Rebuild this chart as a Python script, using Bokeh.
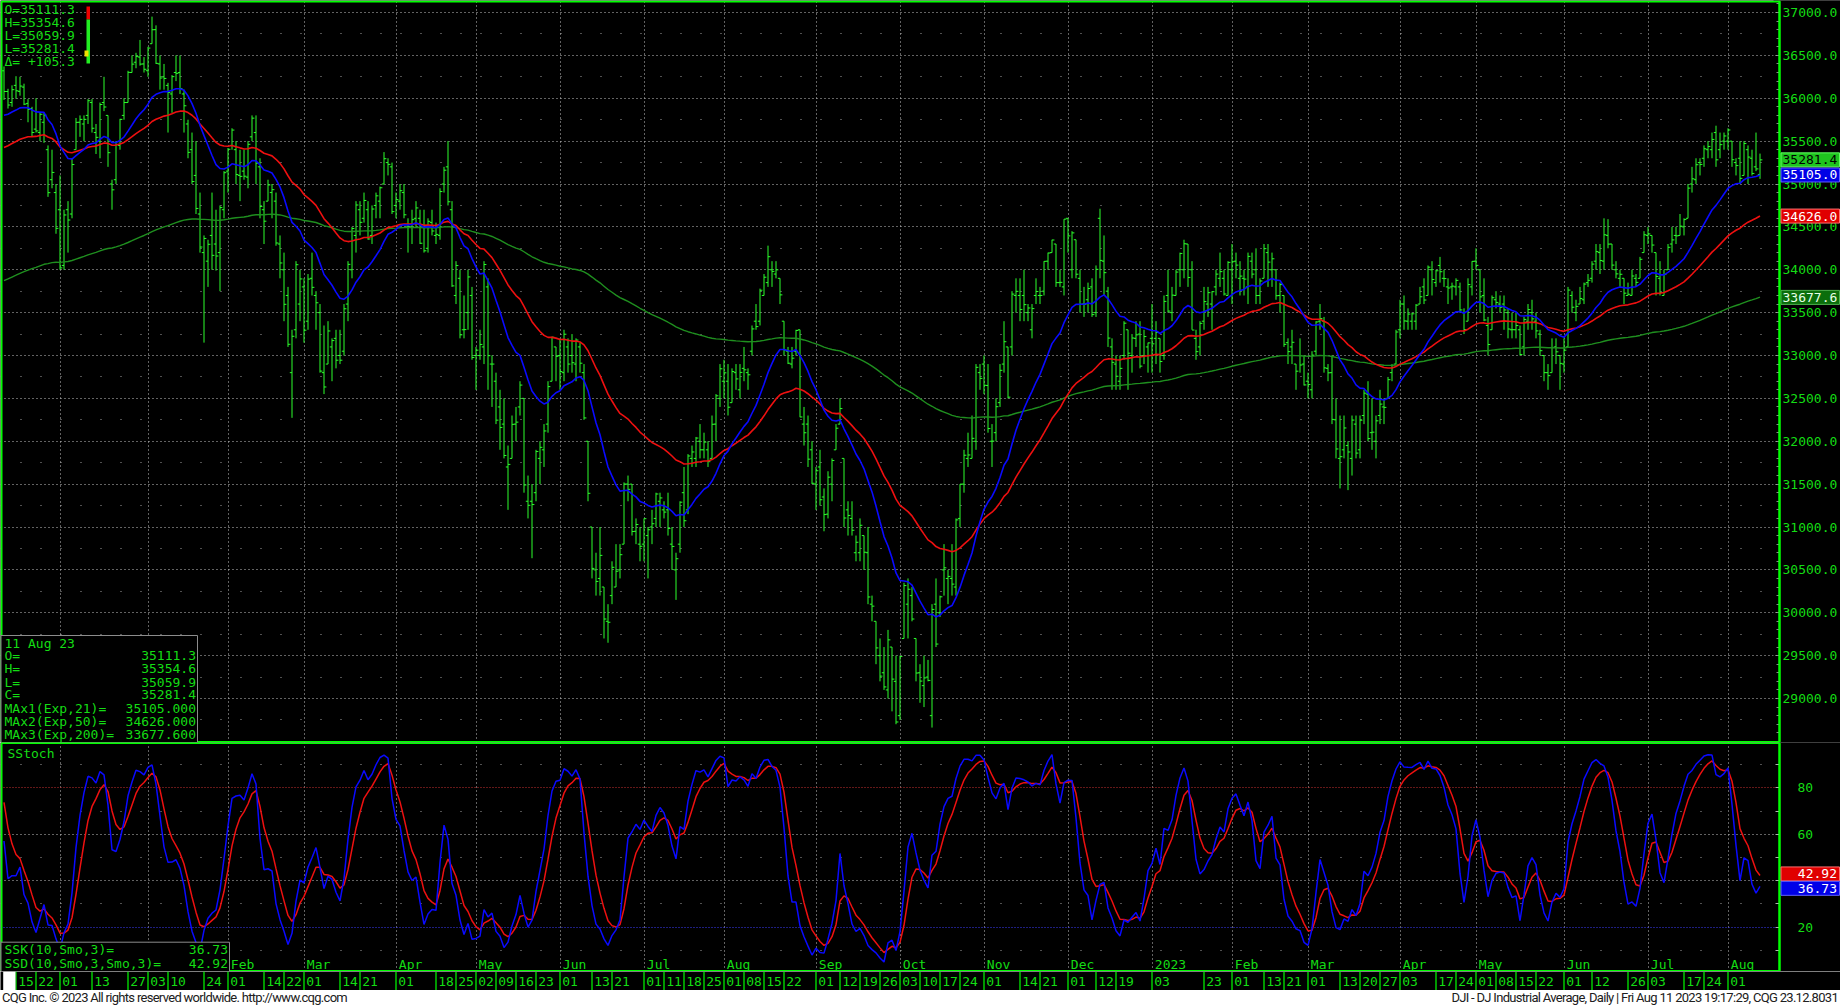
import numpy as np
import pandas as pd
from bokeh.plotting import figure
from bokeh.layouts import column
from bokeh.models import (Range1d, FixedTicker, NumeralTickFormatter, CustomJSTickFormatter, Grid,
                          LinearAxis, Label, BoxAnnotation, Div)
from bokeh.embed import file_html
from bokeh.resources import INLINE
from bokeh.core.properties import value

# ------------------------------------------------------------------ data
holidays = ["2021-11-25", "2021-12-24", "2022-01-17", "2022-02-21", "2022-04-15", "2022-05-30",
            "2022-06-20", "2022-07-04", "2022-09-05", "2022-11-24", "2022-12-26", "2023-01-02",
            "2023-01-16", "2023-02-20", "2023-04-07", "2023-05-29", "2023-06-19", "2023-07-04"]
first_day, last_day = "2021-11-10", "2023-08-11"

# one line per month: Nov-2021 ... Aug-2023
opens = [
    36320, 36079, 35950, 36150, 36080, 36130, 35940, 35880, 35640, 35600, 35720, 35400, 35050, 34900,
    34700, 34050, 34700, 34650, 35400, 35720, 35700, 35800, 35950, 35600, 35500, 35950, 35800, 35000, 35050, 35450, 35800, 35950, 36300, 36420, 36480, 36400,
    36321, 36636, 36800, 36400, 36250, 36150, 36050, 36300, 36300, 36050, 35700, 35400, 35100, 34650, 34200, 34100, 34400, 34300, 34200, 34700,
    35150, 35450, 35400, 35100, 35150, 35080, 35550, 35600, 35200, 34700, 34800, 34900, 34800, 34300, 34000, 33700, 32800, 33300, 33600,
    33800, 33400, 33900, 33700, 33500, 32800, 32900, 33100, 33200, 33000, 33050, 33600, 34000, 34400, 34700, 34600, 34700, 34400, 34750, 34800, 35000, 35250, 35200,
    34750, 34800, 34900, 34500, 34500, 34600, 34600, 34500, 34250, 34550, 34400, 34400, 35000, 35200, 34700, 33700, 33900, 33300, 33500, 33700,
    33000, 33000, 33100, 33800, 32900, 32700, 32400, 32200, 31700, 31800, 32200, 32400, 32500, 31300, 31300, 31400, 31800, 31900, 32200, 32700, 33100,
    33000, 32800, 33100, 33000, 32900, 33100, 32800, 32000, 31000, 30500, 30400, 30300, 29900, 30200, 30300, 30500, 30800, 31500, 31500, 30950, 30800,
    30800, 30900, 31000, 31100, 31300, 31200, 31200, 30800, 30500, 30800, 31400, 31200, 31800, 31800, 32000, 31900, 31900, 31800, 32200, 32500,
    32700, 32700, 32450, 32800, 32600, 32850, 32800, 33050, 33400, 33400, 33700, 33850, 34000, 33950, 33900, 33400, 33050, 32900, 33050, 33300, 32200, 32200, 31900,
    31500, 31700, 31350, 31150, 31500, 31900, 32200, 31800, 31200, 31100, 30700, 30700, 30900, 30700, 30100, 29900, 29500, 29300, 29100, 29600, 29200,
    28800, 29700, 30100, 30200, 29700, 29300, 29150, 29250, 28800, 30100, 30000, 30500, 30400, 30400, 30300, 31100, 31500, 31800, 31800, 32000, 32800,
    32900, 32650, 32000, 32100, 32450, 32900, 33100, 33100, 33700, 33700, 33700, 33500, 33300, 33700, 33700, 33750, 34100, 34200, 34300, 33850, 33800,
    34600, 34000, 34350, 33900, 33600, 33650, 33800, 33500, 34600, 34100, 33750, 33100, 32900, 32700, 33000, 33300, 33000, 33200, 33250, 33000, 33100,
    33200, 33200, 33200, 33000, 33700, 33500, 33700, 34000, 34000, 34300, 34000, 33200, 33100, 33400, 33600, 33600, 33800, 33900, 33900, 33700,
    34000, 34100, 33900, 33900, 33800, 34100, 34000, 33700, 33900, 34200, 34000, 34000, 33700, 33700, 33150, 33100, 32900, 33000, 32900,
    32700, 32600, 33050, 33400, 33400, 32850, 32800, 32250, 31800, 31900, 31950, 31800, 32200, 31900, 32300, 32550, 32100, 32000, 32300, 32400, 32500, 32800, 32900,
    33300, 33600, 33400, 33400, 33400, 33600, 33800, 33700, 34000, 33850, 34050, 33900, 33800, 33800, 33800, 33800, 33500, 33400, 33800,
    34100, 34000, 33700, 33350, 33300, 33650, 33600, 33600, 33500, 33300, 33300, 33300, 33100, 33400, 33500, 33400, 33250, 33000, 32800, 32800, 33100, 33000,
    32900, 33100, 33700, 33500, 33600, 33650, 33850, 33900, 34100, 34200, 34100, 34400, 34300, 34000, 33900, 33900, 33700, 33700, 33900, 33900, 34200,
    34400, 34400, 34200, 33900, 33700, 34000, 34300, 34400, 34400, 34500, 34600, 35000, 35050, 35250, 35300, 35400, 35400, 35600, 35400, 35500,
    35500, 35500, 35250, 35300, 35100, 35400, 35300, 35200, 35111.3,
]
highs = [
    36371, 36110, 36150, 36257, 36250, 36170, 35990, 35900, 36000, 35840, 35830, 35450, 35400, 35000,
    35100, 34700, 34800, 35300, 35770, 35800, 35800, 35990, 35990, 35700, 35950, 36250, 35800, 35050, 35500, 35760, 36000, 36320, 36500, 36530, 36680, 36480,
    36600, 36952, 36850, 36500, 36400, 36180, 36270, 36500, 36500, 36100, 35750, 35600, 35500, 34900, 34400, 34350, 34900, 34700, 34750, 35150,
    35420, 35650, 35500, 35400, 35400, 35500, 35800, 35800, 35300, 34800, 35050, 35000, 34900, 34400, 34200, 33800, 33300, 34100, 34000,
    33900, 33950, 34200, 33750, 33600, 33350, 33400, 33200, 33300, 33300, 33600, 34100, 34500, 34800, 34800, 34900, 34800, 34750, 34900, 34970, 35372, 35300, 35250,
    34900, 35000, 35000, 34600, 34700, 34800, 34700, 34700, 34600, 34700, 34550, 34950, 35200, 35500, 34800, 34100, 34000, 33700, 34000, 33800,
    33100, 33300, 34100, 33900, 33000, 32800, 32600, 32500, 31950, 32300, 32400, 32700, 32500, 31600, 31500, 31900, 32000, 32200, 32700, 33220, 33100,
    33200, 33300, 33200, 33250, 33200, 33150, 32900, 32000, 31000, 30700, 31000, 30300, 30100, 30600, 30800, 30800, 31520, 31600, 31500, 31100, 31000,
    31100, 31000, 31200, 31400, 31400, 31300, 31400, 31000, 30700, 31300, 31700, 31850, 31950, 32050, 32200, 32100, 32000, 32300, 32550, 32900,
    32950, 32900, 32850, 32900, 32900, 33100, 32850, 33350, 33600, 33780, 33950, 34281, 34100, 34100, 33900, 33400, 33100, 33100, 33300, 33300, 32400, 32300, 32000,
    31700, 31900, 31450, 31650, 31800, 32200, 32500, 31800, 31300, 31300, 30900, 31100, 30900, 31000, 30200, 29900, 29700, 29600, 29800, 29600, 29500,
    29500, 30350, 30400, 30300, 29700, 29400, 29500, 29450, 30100, 30400, 30200, 30800, 30500, 30800, 31100, 31500, 31900, 32100, 32300, 32900, 32900,
    33000, 32900, 32200, 32500, 32900, 33400, 33100, 33750, 33900, 33900, 34000, 33600, 33600, 33900, 33800, 34100, 34200, 34350, 34300, 34000, 34590,
    34600, 34450, 34350, 34000, 33800, 33850, 33900, 34050, 34712, 34400, 33800, 33200, 33000, 33000, 33400, 33300, 33250, 33400, 33400, 33300, 33150,
    33600, 33400, 33200, 33700, 34000, 33800, 34000, 34200, 34350, 34300, 34100, 33300, 33400, 33800, 33800, 33750, 34000, 34200, 34000, 34100,
    34300, 34200, 34100, 34000, 34200, 34200, 34250, 33900, 34300, 34300, 34200, 34000, 33850, 33700, 33200, 33300, 32900, 33200, 33000,
    32800, 33050, 33400, 33600, 33450, 32900, 33000, 32500, 32300, 32300, 32000, 32300, 32300, 32300, 32600, 32700, 32500, 32300, 32600, 32500, 32750, 32900, 33300,
    33650, 33700, 33550, 33500, 33600, 33800, 33900, 34050, 34100, 34000, 34150, 34000, 33900, 33850, 33900, 33850, 33550, 33900, 34100,
    34250, 34000, 33900, 33450, 33700, 33750, 33700, 33700, 33550, 33500, 33500, 33350, 33450, 33600, 33650, 33500, 33300, 33000, 32900, 33200, 33200, 33000,
    33200, 33800, 33750, 33650, 33800, 33850, 33950, 34100, 34300, 34300, 34600, 34590, 34300, 34100, 34000, 33900, 33850, 34000, 33950, 34150, 34450,
    34500, 34400, 34200, 34100, 34000, 34300, 34500, 34500, 34650, 34600, 35000, 35200, 35300, 35300, 35450, 35500, 35600, 35680, 35600, 35600,
    35650, 35500, 35300, 35500, 35500, 35450, 35400, 35600, 35354.6,
]
lows = [
    35980, 35880, 35900, 35994, 36030, 35920, 35720, 35550, 35600, 35500, 35480, 34850, 34950, 34420,
    34000, 34000, 34200, 34600, 35400, 35550, 35500, 35700, 35600, 35350, 35300, 35850, 35200, 34700, 35000, 35400, 35750, 35950, 36300, 36350, 36380, 36300,
    36250, 36636, 36400, 36100, 36100, 35600, 35830, 36200, 36050, 35600, 35300, 35000, 34650, 34200, 33150, 33800, 34000, 33990, 33750, 34600,
    34900, 35400, 35000, 34800, 35050, 34950, 35500, 35000, 34600, 34300, 34800, 34600, 34280, 33900, 33400, 33100, 32273, 33200, 33400,
    33150, 33300, 33700, 33300, 32800, 32550, 32900, 32700, 32850, 32900, 33000, 33400, 33900, 34200, 34400, 34550, 34350, 34300, 34600, 34600, 35000, 35100, 34650,
    34600, 34700, 34600, 34200, 34300, 34500, 34300, 34200, 34200, 34400, 34300, 34350, 34900, 34750, 33800, 33600, 33200, 33200, 33300, 32950,
    32600, 32950, 32900, 32600, 32400, 32200, 31900, 31800, 31200, 31800, 32000, 32300, 31400, 31100, 30636, 31300, 31500, 31700, 32100, 32700, 32700,
    32600, 32700, 32800, 32800, 32700, 32800, 32250, 31300, 30400, 30200, 30200, 29700, 29650, 30100, 30300, 30400, 30800, 31300, 30900, 30800, 30600,
    30600, 30400, 30800, 31000, 31000, 31100, 30900, 30500, 30150, 30700, 31000, 31150, 31700, 31700, 31800, 31800, 31700, 31800, 32000, 32400,
    32500, 32300, 32450, 32600, 32500, 32700, 32600, 33000, 33300, 33350, 33700, 33800, 33800, 33900, 33600, 33000, 32900, 32850, 33000, 32280, 31950, 31700, 31500,
    31200, 31250, 30950, 31100, 31300, 31900, 32200, 31000, 30900, 30900, 30600, 30600, 30500, 30100, 29900, 29400, 29200, 29100, 29000, 28850, 28700,
    28750, 29700, 29700, 29900, 29200, 28950, 28900, 29200, 28661, 29600, 29950, 30200, 30100, 30200, 30200, 31000, 31400, 31700, 31800, 31900, 32600,
    32550, 32100, 31700, 32000, 32400, 32800, 32500, 33000, 33500, 33400, 33400, 33400, 33200, 33600, 33600, 33700, 34000, 34200, 33800, 33800, 33700,
    34200, 33900, 33900, 33500, 33450, 33500, 33450, 33450, 33900, 33700, 33100, 32600, 32600, 32600, 32950, 32600, 32800, 33100, 32850, 32900, 32800,
    32800, 32900, 32800, 32950, 33500, 33400, 33700, 33800, 33900, 33800, 33300, 32950, 33000, 33300, 33450, 33300, 33700, 33800, 33700, 33700,
    33600, 33900, 33700, 33700, 33600, 33900, 33600, 33600, 33900, 33800, 33800, 33650, 33500, 33100, 32900, 32900, 32600, 32800, 32650,
    32500, 32500, 33000, 33300, 32800, 32700, 32200, 31800, 31450, 31800, 31430, 31600, 31800, 31800, 32200, 32000, 31900, 31800, 32200, 32200, 32500, 32700, 32900,
    33200, 33300, 33300, 33300, 33300, 33600, 33600, 33700, 33700, 33800, 33850, 33800, 33600, 33650, 33700, 33500, 33250, 33400, 33700,
    34000, 33500, 33400, 33000, 33300, 33550, 33500, 33300, 33200, 33200, 33200, 33000, 33000, 33300, 33300, 33200, 33000, 32700, 32600, 32800, 32900, 32600,
    32800, 33100, 33500, 33400, 33600, 33600, 33800, 33850, 34000, 33950, 34000, 34250, 34000, 33900, 33800, 33600, 33700, 33700, 33800, 33900, 34200,
    34300, 34200, 33700, 33700, 33700, 34000, 34200, 34300, 34400, 34400, 34600, 34900, 35000, 35100, 35200, 35300, 35300, 35200, 35300, 35400,
    35400, 35200, 35100, 35000, 35100, 35000, 35100, 35150, 35059.9,
]
closes = [
    36079, 35921, 36100, 36087, 36142, 35931, 35870, 35601, 35619, 35813, 35804, 34899, 35135, 34483,
    34022, 34639, 34580, 35227, 35719, 35754, 35754, 35971, 35650, 35544, 35927, 35898, 35365, 34932, 35493, 35754, 35950, 36302, 36398, 36488, 36398, 36338,
    36585, 36799, 36407, 36236, 36231, 36068, 36252, 36290, 36113, 35912, 35369, 35029, 34715, 34265, 34365, 34297, 34168, 34160, 34725, 35132,
    35405, 35629, 35111, 35089, 35091, 35463, 35768, 35242, 34738, 34566, 34989, 34934, 34312, 34079, 33597, 33131, 33224, 34059, 33893,
    33295, 33891, 33795, 33615, 32818, 32633, 33286, 33174, 32945, 32945, 33545, 34063, 34481, 34755, 34553, 34808, 34359, 34708, 34862, 34956, 35295, 35229, 34678,
    34818, 34922, 34641, 34497, 34584, 34721, 34309, 34221, 34565, 34452, 34412, 34912, 35161, 34793, 33812, 34049, 33241, 33302, 33916, 32977,
    33062, 33129, 34061, 32998, 32900, 32246, 32161, 31834, 31730, 32197, 32223, 32655, 31490, 31253, 31262, 31880, 31929, 32120, 32637, 33213, 32990,
    32813, 33248, 32900, 32916, 33180, 32910, 32272, 31393, 30517, 30365, 30669, 29927, 29889, 30530, 30484, 30677, 31501, 31439, 30947, 31029, 30775,
    31097, 30968, 31038, 31385, 31339, 31174, 30982, 30773, 30630, 31289, 31073, 31828, 31875, 32037, 31900, 31990, 31762, 32198, 32530, 32845,
    32798, 32397, 32813, 32727, 32803, 32833, 32775, 33310, 33337, 33761, 33913, 34152, 33981, 33999, 33707, 33064, 32910, 32969, 33292, 32283, 32099, 31791, 31510,
    31656, 31318, 31145, 31581, 31775, 32152, 32381, 31105, 31135, 30962, 30822, 31020, 30706, 30184, 30077, 29590, 29261, 29135, 29684, 29226, 28726,
    29490, 30317, 30274, 29927, 29297, 29203, 29240, 29211, 30039, 29635, 30186, 30524, 30424, 30334, 31083, 31500, 31837, 31840, 32034, 32862, 32733,
    32653, 32148, 32002, 32403, 32827, 33161, 32514, 33716, 33748, 33537, 33593, 33554, 33547, 33746, 33700, 34098, 34195, 34347, 33850, 33853, 34590,
    34395, 34430, 33948, 33597, 33598, 33781, 33477, 34005, 34109, 33966, 33203, 32920, 32758, 32850, 33377, 33027, 33204, 33241, 32876, 33221, 33147,
    33136, 33270, 32930, 33631, 33518, 33704, 33973, 34190, 34303, 33910, 33297, 33045, 33375, 33629, 33733, 33744, 33949, 33978, 33717, 34086,
    34093, 34054, 33926, 33891, 34156, 33949, 33699, 33869, 34246, 34089, 34128, 33697, 33827, 33130, 33045, 33154, 32817, 32889, 32657,
    32662, 33004, 33391, 33431, 32856, 32798, 32255, 31910, 31820, 32155, 31875, 32247, 31862, 32245, 32561, 32031, 32106, 32238, 32433, 32395, 32718, 32860, 33274,
    33601, 33403, 33483, 33486, 33587, 33685, 33647, 34030, 33887, 33988, 33977, 33897, 33787, 33809, 33876, 33531, 33302, 33827, 34098,
    34051, 33684, 33414, 33128, 33674, 33619, 33562, 33531, 33309, 33301, 33349, 33012, 33421, 33536, 33427, 33287, 33056, 32800, 32765, 33093, 33043, 32908,
    33062, 33763, 33563, 33573, 33665, 33833, 33877, 34066, 34212, 34108, 34408, 34299, 34054, 33952, 33947, 33727, 33714, 33927, 33853, 34122, 34408,
    34418, 34288, 33922, 33735, 33944, 34262, 34348, 34395, 34509, 34585, 34952, 35061, 35225, 35228, 35411, 35438, 35520, 35282, 35459, 35560,
    35630, 35283, 35215, 35066, 35473, 35314, 35123, 35176.1, 35281.4,
]

ma_names = ["MAx1(Exp,21)=", "MAx2(Exp,50)=", "MAx3(Exp,200)="]
ma_periods = [21, 50, 200]
ma_seed = [35775, 35400, 33850]          # level of each average at the first bar
ma_last = [35105.0, 34626.0, 33677.6]    # values printed by the chart
stoch_seed = [73, 82]                    # SSK / SSD at the first bar
stoch_last = [36.73, 42.92]
price_ticks = list(range(29000, 37001, 500))
price_minor = list(range(28500, 37101, 100))
stoch_ticks = [20, 60, 80]
stoch_marks = list(range(10, 100, 10))

tick_dates = [
    "2021-11-15", "2021-11-22", "2021-12-01", "2021-12-13", "2021-12-27",
    "2022-01-03", "2022-01-10", "2022-01-24", "2022-02-01", "2022-02-14", "2022-02-22", "2022-03-01",
    "2022-03-14", "2022-03-21", "2022-04-01", "2022-04-18", "2022-04-25", "2022-05-02", "2022-05-09",
    "2022-05-16", "2022-05-23", "2022-06-01", "2022-06-13", "2022-06-21", "2022-07-01", "2022-07-11",
    "2022-07-18", "2022-07-25", "2022-08-01", "2022-08-08", "2022-08-15", "2022-08-22", "2022-09-01",
    "2022-09-12", "2022-09-19", "2022-09-26", "2022-10-03", "2022-10-10", "2022-10-17", "2022-10-24",
    "2022-11-01", "2022-11-14", "2022-11-21", "2022-12-01", "2022-12-12", "2022-12-19",
    "2023-01-03", "2023-01-23", "2023-02-01", "2023-02-13", "2023-02-21", "2023-03-01", "2023-03-13",
    "2023-03-20", "2023-03-27", "2023-04-03", "2023-04-17", "2023-04-24", "2023-05-01", "2023-05-08",
    "2023-05-15", "2023-05-22", "2023-06-01", "2023-06-12", "2023-06-26", "2023-07-03", "2023-07-17",
    "2023-07-24", "2023-08-01",
]
month_keys = ["2022-02", "2022-03", "2022-04", "2022-05", "2022-06", "2022-07", "2022-08", "2022-09",
              "2022-10", "2022-11", "2022-12", "2023-01", "2023-02", "2023-03", "2023-04", "2023-05",
              "2023-06", "2023-07", "2023-08"]
month_labels = ["Feb", "Mar", "Apr", "May", "Jun", "Jul", "Aug", "Sep", "Oct", "Nov", "Dec", "2023",
                "Feb", "Mar", "Apr", "May", "Jun", "Jul", "Aug"]

footer_left = "CQG Inc. © 2023 All rights reserved worldwide. http://www.cqg.com"
footer_right = "DJI - DJ Industrial Average, Daily | Fri Aug 11 2023 19:17:29, CQG 23.12.8031"

# ------------------------------------------------------------------ derived series
dates = pd.bdate_range(first_day, last_day, freq="C", holidays=holidays)
n = min(len(dates), len(closes))
dates = dates[:n]
O = np.array(opens[:n], float); H = np.array(highs[:n], float)
L = np.array(lows[:n], float); C = np.array(closes[:n], float)
x = np.arange(n, dtype=float)


def ema(vals, period, seed):
    a = 2.0 / (period + 1)
    out, e = [], float(seed)
    for v in vals:
        e += a * (v - e)
        out.append(e)
    return np.array(out)


def smo(vals, period, seed):
    out, s = [], float(seed)
    for v in vals:
        s += (v - s) / period
        out.append(s)
    return np.array(out)


mas = [ema(C, per, sd) for per, sd in zip(ma_periods, ma_seed)]
hh = pd.Series(H).rolling(10, min_periods=1).max().values
ll = pd.Series(L).rolling(10, min_periods=1).min().values
fastk = 100.0 * (C - ll) / np.where(hh - ll == 0, 1, hh - ll)
ssk = smo(fastk, 3, stoch_seed[0])
ssd = smo(ssk, 3, stoch_seed[1])

pos = {d.strftime("%Y-%m-%d"): i for i, d in enumerate(dates)}
month_starts = [i for i in range(1, n) if dates[i].month != dates[i - 1].month]
month_start_by_key = {dates[i].strftime("%Y-%m"): i for i in month_starts}

# ------------------------------------------------------------------ layout helpers
W = 1840
H_MAIN, H_ST, H_ROW, H_FOOT = 742, 229, 19, 16
BG = "#000000"
GRN = "#00ff00"
TXT = "#14dc14"
BAR = "#2cff2c"
BLUE = "#0a0aff"
RED = "#ee1010"
DKG = "#1f8f1f"
MONO = "DejaVu Sans Mono"
PPX = 1 / 0.08575      # price units per screen pixel
SPX = 1 / 2.3233       # stochastic units per screen pixel


def px(xr):      # horizontal screen position -> bar index
    return (xr - 15.5) / 4.0 + 3


def py_m(yr):    # vertical screen position in the price pane -> price
    return 37000 - (yr - 12) * PPX


def py_s(yr):    # vertical screen position in the stochastic pane -> value
    return 80 - (yr - 787.3) * SPX


def txt(p, xx, yy, s, color=TXT, align="left", size="13px"):
    p.add_layout(Label(x=xx, y=yy, text=s, text_font=MONO, text_font_size=size, text_color=color,
                       text_align=align, text_baseline="middle"))


def box(p, l, r, t, b, fill=None, line=None, lw=1, level="annotation"):
    p.add_layout(BoxAnnotation(left=l, right=r, top=t, bottom=b, fill_color=fill,
                               fill_alpha=1 if fill else 0, line_color=line, line_width=lw,
                               line_alpha=1 if line else 0, level=level))


def pane(height, yrange):
    p = figure(width=W, height=height, x_range=xr, y_range=yrange,
               x_axis_location=None, y_axis_location="right", title=None,
               output_backend="svg", toolbar_location=None,
               min_border_left=0, min_border_right=0, min_border_top=0, min_border_bottom=0,
               background_fill_color=BG, border_fill_color=BG, outline_line_color=None)
    p.grid.visible = False
    return p


def style_label_axis(a, standoff):
    a.major_label_text_color = TXT
    a.major_label_text_font = MONO
    a.major_label_text_font_size = "13px"
    a.major_label_standoff = standoff
    a.axis_line_color = None
    a.major_tick_line_color = None
    a.minor_tick_line_color = None
    a.major_tick_in = a.major_tick_out = 0
    a.minor_tick_in = a.minor_tick_out = 0


def tick_axis(p, ticker):
    # axis line and inward tick marks drawn at the right edge of the plotting area
    a = LinearAxis(fixed_location=PLOT_R, ticker=ticker,
                   formatter=CustomJSTickFormatter(code="return ''"),
                   major_label_standoff=0, axis_line_color=GRN, axis_line_width=2,
                   major_tick_in=4, major_tick_out=0, minor_tick_in=3, minor_tick_out=0,
                   major_tick_line_color="#b4b4b4", minor_tick_line_color="#8a8a8a")
    p.add_layout(a, "right")


xr = Range1d(px(0), px(W))
PLOT_R = px(1779)

# ------------------------------------------------------------------ price pane
p1 = pane(H_MAIN, Range1d(py_m(H_MAIN), py_m(0)))
ax = p1.yaxis[0]
ax.ticker = FixedTicker(ticks=price_ticks)
ax.formatter = NumeralTickFormatter(format="0.0")
style_label_axis(ax, -58)
tick_axis(p1, FixedTicker(ticks=price_ticks, minor_ticks=price_minor))

p1.add_layout(Grid(dimension=1, ticker=FixedTicker(ticks=price_ticks),
                   grid_line_color="#c4c4c4", grid_line_dash="1 3"))
p1.add_layout(Grid(dimension=1, ticker=FixedTicker(ticks=[t + 250 for t in range(28500, 37000, 500)]),
                   grid_line_color="#a0a0a0", grid_line_dash="1 19"))
p1.add_layout(Grid(dimension=0, ticker=FixedTicker(ticks=month_starts),
                   grid_line_color="#c4c4c4", grid_line_dash="1 3"))
# keep the scale column free of grid dots
box(p1, px(1773), px(W + 4), py_m(-5), py_m(H_MAIN + 5), fill=BG, level="underlay")

p1.segment(x0=x, y0=L, x1=x, y1=H, line_color=BAR, line_width=1)
p1.segment(x0=x - 0.55, y0=O, x1=x, y1=O, line_color=BAR, line_width=1)
p1.segment(x0=x, y0=C, x1=x + 0.6, y1=C, line_color=BAR, line_width=1)
p1.line(x, mas[2], line_color=DKG, line_width=1.4)
p1.line(x, mas[1], line_color=RED, line_width=1.6)
p1.line(x, mas[0], line_color=BLUE, line_width=1.6)

# frame
box(p1, px(1), PLOT_R, py_m(1), py_m(741.5), line=GRN, lw=2)

# top-left quote block
chg = C[-1] - C[-2]
top_lines = [f"O={O[-1]:.1f}", f"H={H[-1]:.1f}", f"L={L[-1]:.1f}", f"L={C[-1]:.1f}", f"Δ= {chg:+.1f}"]
for s, yy in zip(top_lines, [8.7, 22, 34.7, 48, 60.7]):
    txt(p1, px(4), py_m(yy), s)
box(p1, px(86), px(89.5), py_m(6), py_m(19), fill="#ee0000")
box(p1, px(86), px(89.5), py_m(19), py_m(63), fill="#22ee22")
box(p1, px(84), px(88), py_m(50), py_m(56), fill="#f0e000")

# bottom-left data window
box(p1, px(0.5), px(197), py_m(635), py_m(742), fill=BG, line="#8c8c8c")
win_names = [dates[-1].strftime("%d %b %y"), "O=", "H=", "L=", "C="] + ma_names
win_vals = ["", f"{O[-1]:.1f}", f"{H[-1]:.1f}", f"{L[-1]:.1f}", f"{C[-1]:.1f}"] + [f"{v:.3f}" for v in ma_last]
win_y = [642.7, 655.3, 668.3, 681.5, 694.2, 707.6, 720.7, 734]
for nm, vv, yy in zip(win_names, win_vals, win_y):
    txt(p1, px(4), py_m(yy), nm)
    if vv:
        txt(p1, px(195.5), py_m(yy), vv, align="right")

# value flags on the price scale
flag_vals = [C[-1]] + ma_last
flag_style = [("#1fc41f", "#000000", "#60ff60"), ("#0000e6", "#ffffff", "#6060ff"),
              ("#e00000", "#ffffff", "#ff7070"), ("#0b6e0b", "#e8ffe8", "#4cb04c")]
for v, (bgc, fgc, brc) in zip(flag_vals, flag_style):
    box(p1, px(1780.5), px(1839), v + 7 * PPX, v - 7 * PPX, fill=bgc, line=brc)
    txt(p1, px(1782), v, f"{v:.1f}", color=fgc)

# ------------------------------------------------------------------ stochastic pane
p2 = pane(H_ST, Range1d(py_s(971), py_s(742)))
a2 = p2.yaxis[0]
a2.ticker = FixedTicker(ticks=stoch_ticks)
style_label_axis(a2, -43)
tick_axis(p2, FixedTicker(ticks=stoch_marks))

p2.add_layout(Grid(dimension=1, ticker=FixedTicker(ticks=[40, 60]),
                   grid_line_color="#c4c4c4", grid_line_dash="1 3"))
p2.add_layout(Grid(dimension=1, ticker=FixedTicker(ticks=[10, 30, 50, 70, 90]),
                   grid_line_color="#a0a0a0", grid_line_dash="1 19"))
p2.add_layout(Grid(dimension=0, ticker=FixedTicker(ticks=month_starts),
                   grid_line_color="#c4c4c4", grid_line_dash="1 3"))
p2.add_layout(Grid(dimension=1, ticker=FixedTicker(ticks=[80]),
                   grid_line_color="#c83030", grid_line_dash="1 2"))
p2.add_layout(Grid(dimension=1, ticker=FixedTicker(ticks=[20]),
                   grid_line_color="#3c3cff", grid_line_dash="1 2"))
box(p2, px(1779), px(W + 4), py_s(735), py_s(980), fill=BG, level="underlay")

p2.line(x, ssd, line_color=RED, line_width=1.5)
p2.line(x, ssk, line_color=BLUE, line_width=1.5)

mx = [month_start_by_key[k] + 0.7 for k in month_keys if k in month_start_by_key]
ml = [lab for k, lab in zip(month_keys, month_labels) if k in month_start_by_key]
p2.text(x=mx, y=[py_s(963.5)] * len(mx), text=ml, text_font=value(MONO), text_font_size="13px",
        text_color=TXT, text_align="left", text_baseline="middle")

box(p2, px(1), PLOT_R, py_s(742.5), py_s(970.5), line=GRN, lw=2)
txt(p2, px(7), py_s(752.7), "SStoch")
box(p2, px(0.5), px(229), py_s(941.7), py_s(971), fill=BG, line="#8c8c8c")
for nm, vv, yy in zip(["SSK(10,Smo,3)=", "SSD(10,Smo,3,Smo,3)="], stoch_last, [949.3, 962.7]):
    txt(p2, px(4), py_s(yy), nm)
    txt(p2, px(227.5), py_s(yy), f"{vv:.2f}", align="right")

for v, bgc, brc in zip([stoch_last[1], stoch_last[0]], ["#e00000", "#0000e8"], ["#ff7070", "#6060ff"]):
    box(p2, px(1780.5), px(1839), v + 7 * SPX, v - 7 * SPX, fill=bgc, line=brc)
    txt(p2, px(1836.5), v, f"{v:.2f}", color="#ffffff", align="right")

# ------------------------------------------------------------------ date row
p3 = figure(width=W, height=H_ROW, x_range=xr, y_range=Range1d(0, 1),
            x_axis_location=None, y_axis_location=None, title=None,
            output_backend="svg", toolbar_location=None,
            min_border_left=0, min_border_right=0, min_border_top=0, min_border_bottom=0,
            background_fill_color=BG, border_fill_color=BG, outline_line_color=None)
p3.grid.visible = False
tx = np.array([pos[d] for d in tick_dates if d in pos], float)
tl = [d[-2:] for d in tick_dates if d in pos]
p3.segment(x0=tx, y0=0, x1=tx, y1=1, line_color=GRN, line_width=1.2)
p3.text(x=tx + 0.55, y=[0.45] * len(tx), text=tl, text_font=value(MONO), text_font_size="13px",
        text_color=TXT, text_align="left", text_baseline="middle")
box(p3, px(2.7), px(15), 1, 0, fill="#ffffff")

# ------------------------------------------------------------------ footer
footer = Div(text=(
    '<div style="display:flex;justify-content:space-between;align-items:center;'
    f'width:{W}px;height:{H_FOOT}px;background:#ffffff;font-family:Roboto,sans-serif;'
    'font-size:13px;letter-spacing:-0.7px;color:#202020;white-space:nowrap;overflow:hidden;">'
    f'<span style="padding-left:2px;">{footer_left}</span>'
    f'<span style="padding-right:2px;">{footer_right}</span></div>'),
    width=W, height=H_FOOT, margin=0, styles={"background-color": "#ffffff"})

page = column(p1, p2, p3, footer, spacing=0)
open("out.html", "w").write(file_html(page, INLINE))
